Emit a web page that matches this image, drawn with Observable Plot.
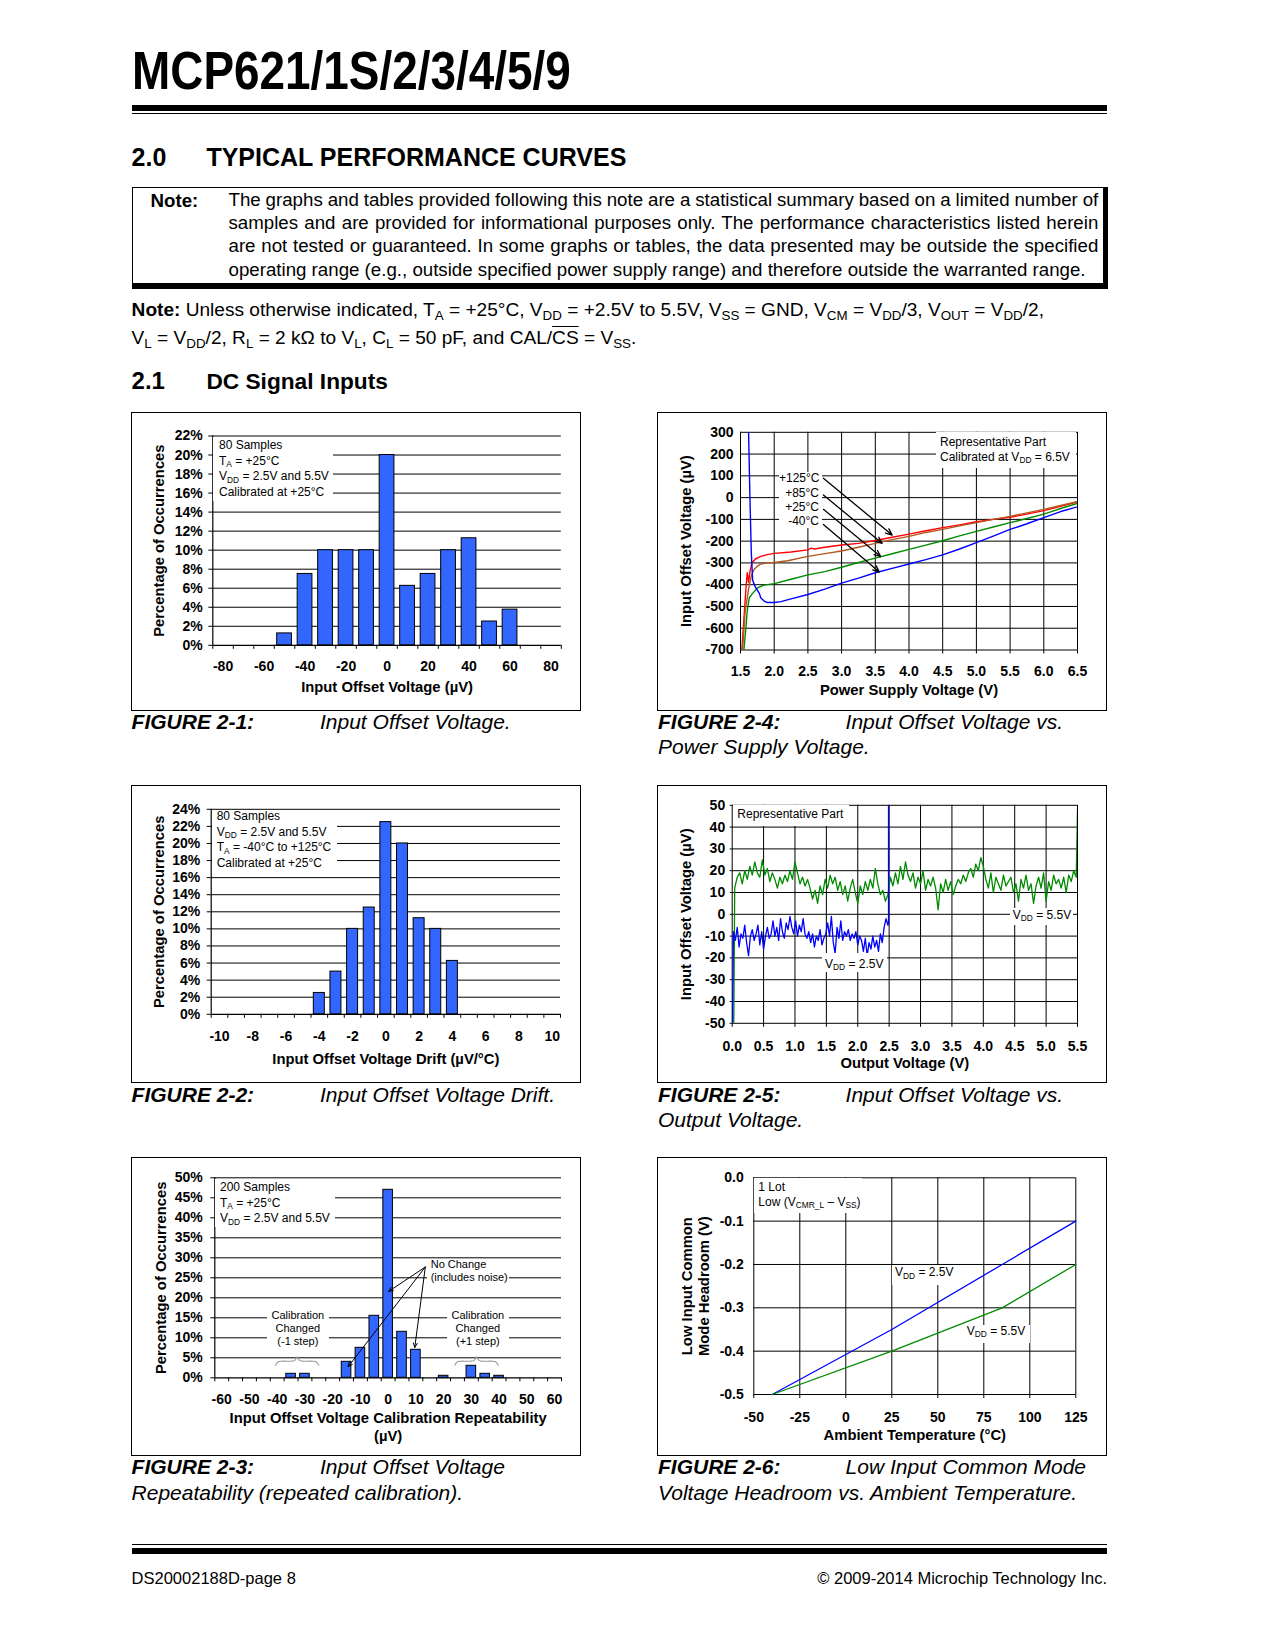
<!DOCTYPE html>
<html><head><meta charset="utf-8">
<script src="https://cdn.jsdelivr.net/npm/d3@7"></script>
<script src="https://cdn.jsdelivr.net/npm/@observablehq/plot@0.6"></script>
<style>
html,body{margin:0;padding:0;background:#fff;}
#page{position:relative;width:1275px;height:1650px;background:#fff;font-family:"Liberation Sans",Arial,Helvetica,sans-serif;color:#000;overflow:hidden}
.abs{position:absolute;white-space:nowrap}
sub{font-size:70%;vertical-align:baseline;position:relative;top:0.3em;line-height:0}
.box{position:absolute;background:#fff;box-shadow:inset 0 0 0 1px #000}
.box svg{position:absolute;left:0;top:0;max-width:none}
.ann{position:absolute;background:#fff;font-weight:normal}
.rule{position:absolute;background:#000}
.ol{text-decoration:overline}
</style>
</head><body><div id="page"></div>
<script>
// ---------- DATA ----------
// Figure 2-1: Input Offset Voltage histogram
const f1Bins = [-50,-40,-30,-20,-10,0,10,20,30,40,50,60];
const f1Pct  = [1.25,7.5,10,10,10,20,6.25,7.5,10,11.25,2.5,3.75];
const f1XLabels = [-80,-60,-40,-20,0,20,40,60,80];
const f1XEdges = [-85,-75,-65,-55,-45,-35,-25,-15,-5,5,15,25,35,45,55,65,75,85];
const f1YTicks = [0,2,4,6,8,10,12,14,16,18,20,22];

// Figure 2-2: Input Offset Voltage Drift histogram
const f2Bins = [-4,-3,-2,-1,0,1,2,3,4];
const f2Pct  = [2.5,5,10,12.5,22.5,20,11.25,10,6.25];
const f2XLabels = [-10,-8,-6,-4,-2,0,2,4,6,8,10];
const f2XEdges = [-10.5,-9.5,-8.5,-7.5,-6.5,-5.5,-4.5,-3.5,-2.5,-1.5,-0.5,0.5,1.5,2.5,3.5,4.5,5.5,6.5,7.5,8.5,9.5,10.5];
const f2YTicks = [0,2,4,6,8,10,12,14,16,18,20,22,24];

// Figure 2-3: Calibration repeatability histogram
const f3Bins = [-35,-30,-15,-10,-5,0,5,10,20,30,35,40];
const f3Pct  = [1,1,4,7.5,15.5,47,11.5,7,0.5,3,1,0.5];
const f3XLabels = [-60,-50,-40,-30,-20,-10,0,10,20,30,40,50,60];
const f3XEdges = [-62.5,-57.5,-52.5,-47.5,-42.5,-37.5,-32.5,-27.5,-22.5,-17.5,-12.5,-7.5,-2.5,2.5,7.5,12.5,17.5,22.5,27.5,32.5,37.5,42.5,47.5,52.5,57.5,62.5];
const f3YTicks = [0,5,10,15,20,25,30,35,40,45,50];
const f3Arrows = [
  {x1:13.4,y1:27.7,x2:0.2,y2:21.6},
  {x1:13.4,y1:27.7,x2:-14.4,y2:2.8},
  {x1:13.4,y1:27.7,x2:9.6,y2:7.6}
];
const f3Braces = [{x1:-40.6,x2:-25,y:4.15},{x1:24,x2:39.7,y:4.15}];

// Figure 2-4: VOS vs power supply voltage (V, µV)
const f4XTicks = [1.5,2.0,2.5,3.0,3.5,4.0,4.5,5.0,5.5,6.0,6.5];
const f4YTicks = [-700,-600,-500,-400,-300,-200,-100,0,100,200,300];
const f4T125 = [[1.52,-700],[1.55,-560],[1.58,-420],[1.6,-345],[1.62,-390],[1.64,-340],[1.67,-300],[1.72,-282],[1.8,-270],[1.9,-262],[2.0,-256],[2.25,-250],[2.5,-240],[2.55,-232],[2.6,-236],[2.75,-228],[3.0,-218],[3.25,-210],[3.5,-197],[3.75,-182],[4.0,-168],[4.25,-152],[4.5,-138],[4.75,-125],[5.0,-111],[5.25,-100],[5.5,-90],[5.75,-76],[6.0,-60],[6.25,-40],[6.5,-20]];
const f4T85 = [[1.53,-700],[1.57,-520],[1.62,-420],[1.66,-360],[1.7,-330],[1.75,-315],[1.8,-305],[1.9,-300],[2.0,-298],[2.2,-290],[2.5,-270],[2.8,-255],[3.0,-245],[3.25,-228],[3.5,-210],[3.75,-193],[4.0,-178],[4.25,-160],[4.5,-146],[4.75,-130],[5.0,-115],[5.25,-100],[5.5,-86],[5.75,-70],[6.0,-54],[6.25,-36],[6.5,-18]];
const f4T25 = [[1.55,-700],[1.58,-600],[1.6,-520],[1.63,-460],[1.68,-440],[1.75,-415],[1.85,-402],[2.0,-395],[2.25,-375],[2.5,-355],[2.75,-340],[3.0,-320],[3.25,-298],[3.5,-278],[3.75,-258],[4.0,-238],[4.25,-218],[4.5,-198],[4.75,-176],[5.0,-155],[5.25,-135],[5.5,-115],[5.75,-96],[6.0,-76],[6.25,-50],[6.5,-26]];
const f4Tm40 = [[1.62,300],[1.64,0],[1.66,-250],[1.68,-380],[1.72,-410],[1.78,-440],[1.8,-460],[1.85,-475],[1.9,-482],[2.0,-482],[2.1,-478],[2.25,-465],[2.5,-445],[2.75,-420],[3.0,-393],[3.25,-370],[3.5,-345],[3.75,-325],[4.0,-305],[4.25,-285],[4.5,-263],[4.75,-236],[5.0,-207],[5.25,-177],[5.5,-146],[5.75,-120],[6.0,-92],[6.25,-64],[6.5,-42]];
const f4Series = [
  {name:"+125°C", pts:f4T125, color:"#ff0000"},
  {name:"+85°C", pts:f4T85, color:"#b4561e"},
  {name:"+25°C", pts:f4T25, color:"#008a00"},
  {name:"-40°C", pts:f4Tm40, color:"#0000ff"}
];
const f4Arrows = [
  {x1:2.73,y1:89,x2:3.75,y2:-172},
  {x1:2.73,y1:12,x2:3.60,y2:-210},
  {x1:2.73,y1:-54,x2:3.58,y2:-271},
  {x1:2.73,y1:-123,x2:3.56,y2:-342}
];

// Figure 2-5: VOS vs output voltage (V, µV)
const f5XTicks = [0,0.5,1.0,1.5,2.0,2.5,3.0,3.5,4.0,4.5,5.0,5.5];
const f5YTicks = [-50,-40,-30,-20,-10,0,10,20,30,40,50];
const f5Vdd55Start = 0.04, f5Vdd55Step = 0.04;
const f5Vdd55 = [12,17,19,14,20,16,22,18,24,19, 17,25,18,21,15,19,16,12,17,14, 18,15,20,16,24,19,14,17,13,16,
  12,7,11,5,13,9,16,12,18,14, 17,11,15,9,13,6,12,16,10,5, 13,9,15,11,16,12,21,14,9,11,
  6,9,17,13,19,14,22,16,24,18, 15,19,12,17,14,20,11,16,13,17, 12,2,14,10,16,11,15,9,13,16,
  14,18,15,19,21,17,23,20,26,22, 16,12,19,10,17,14,11,18,13,15, 17,10,14,6,16,12,18,11,14,5,
  13,17,12,19,6,15,11,18,14,16, 12,17,10,18,15,20,17];
const f5Vdd55Ends = {first:[0.025,-50], last:[5.5,48]};
const f5Vdd25Start = 0.02, f5Vdd25Step = 0.03;
const f5Vdd25 = [-8,-12,-6,-15,-9,-11,-5,-13,-19,-10, -7,-12,-9,-5,-14,-8,-16,-10,-6,-11,
  -9,-3,-10,-6,-12,-2,-8,-11,-4,-7, -1,-6,-9,-3,-10,-5,-8,-2,-9,-11, -8,-13,-9,-15,-10,-12,-7,-14,-11,-9,
  -4,-10,-1,-13,-18,-6,-11,-3,-12,-8, -10,-7,-12,-9,-11,-8,-14,-10,-12,-17, -11,-19,-13,-16,-10,-15,-12,-17,-9,-13,
  -6,-2,-5];
const f5Vdd25Ends = {first:[0.005,-50], last:[[2.49,-4],[2.49,50]]};

// Figure 2-6: Low input common-mode headroom vs temperature
const f6XTicks = [-50,-25,0,25,50,75,100,125];
const f6YTicks = [-0.5,-0.4,-0.3,-0.2,-0.1,0];
const f6Temp = [-40,25,85,125];
const f6Vdd25 = [-0.5,-0.35,-0.2,-0.1];
const f6Vdd55 = [-0.5,-0.40,-0.30,-0.2];

// ---------- HELPERS ----------
const page = document.getElementById("page");
const FONT = "'Liberation Sans', Arial, Helvetica, sans-serif";
const STYLE = {fontFamily: FONT, fontSize: "14px", fontWeight: "bold", color: "#000", background: "transparent", overflow: "visible"};
const GRID = {stroke: "#000", strokeOpacity: 1, strokeWidth: 1};
const BAR = "#3366ff";
const TITLE_FS = 14.8;

function txt(html, x, base, fs, extra) {
  const d = document.createElement("div");
  d.className = "abs";
  d.style.left = x + "px";
  d.style.top = (base - 0.8465 * fs) + "px";
  d.style.fontSize = fs + "px";
  d.style.lineHeight = fs + "px";
  d.innerHTML = html;
  Object.assign(d.style, extra || {});
  page.appendChild(d);
  return d;
}
function justifyTo(d, width) {
  const spaces = (d.textContent.match(/ /g) || []).length;
  const natural = d.getBoundingClientRect().width;
  if (spaces > 0) d.style.wordSpacing = ((width - natural) / spaces) + "px";
}
function rule(x, y, w, h) {
  const d = document.createElement("div");
  d.className = "rule";
  Object.assign(d.style, {left: x + "px", top: y + "px", width: w + "px", height: h + "px"});
  page.appendChild(d);
}
function box(x, y, w, h) {
  const d = document.createElement("div");
  d.className = "box";
  Object.assign(d.style, {left: x + "px", top: y + "px", width: w + "px", height: h + "px"});
  page.appendChild(d);
  return d;
}
function ann(b, o) {
  const fs = o.fs || 12, lh = o.lh || 15;
  const outer = document.createElement("div");
  outer.className = "ann";
  Object.assign(outer.style, {left: o.l + "px", top: o.t + "px", width: o.w + "px", height: o.h + "px", fontFamily: FONT});
  const inner = document.createElement("div");
  const off = (lh - 1.117 * fs) / 2 + 0.905 * fs;
  Object.assign(inner.style, {position: "absolute", fontSize: fs + "px", lineHeight: lh + "px", top: (o.b - o.t - off) + "px", whiteSpace: "nowrap"});
  if (o.align === "center") { inner.style.left = "0px"; inner.style.width = o.w + "px"; inner.style.textAlign = "center"; }
  else if (o.align === "right") { inner.style.left = "0px"; inner.style.width = (o.tx - o.l) + "px"; inner.style.textAlign = "right"; }
  else inner.style.left = (o.tx - o.l) + "px";
  inner.innerHTML = o.lines.join("<br>");
  outer.appendChild(inner);
  b.appendChild(outer);
}
function titles(xTitle, xDy, yTitle, yDx, xLH, yLH) {
  return [
    Plot.text([xTitle], {text: d => d, frameAnchor: "bottom", dy: xDy, lineAnchor: "middle", textAnchor: "middle", fontSize: TITLE_FS, fontWeight: "bold", lineHeight: xLH || 1}),
    Plot.text([yTitle], {text: d => d, frameAnchor: "left", dx: -yDx, rotate: -90, lineAnchor: "middle", textAnchor: "middle", fontSize: TITLE_FS, fontWeight: "bold", lineHeight: yLH || 1})
  ];
}
function histogram(o) {
  const data = o.bins.map((b, i) => ({b, p: o.pct[i]}));
  return Plot.plot({
    width: o.w, height: o.h,
    marginTop: o.m[0], marginRight: o.m[1], marginBottom: o.m[2], marginLeft: o.m[3],
    style: STYLE,
    x: {type: "linear", domain: [o.xEdges[0], o.xEdges[o.xEdges.length - 1]]},
    y: {type: "linear", domain: [0, o.yTicks[o.yTicks.length - 1]]},
    marks: [
      Plot.gridY(o.yTicks.slice(1), GRID),
      Plot.rect(data, {x1: d => d.b - o.half, x2: d => d.b + o.half, y1: 0, y2: "p", fill: BAR, stroke: "#000", strokeWidth: 1}),
      Plot.ruleY([0], {stroke: "#000", strokeWidth: 1.2}),
      Plot.ruleX([o.xEdges[0]], {stroke: "#000", strokeWidth: 1.2}),
      Plot.axisX(o.xEdges, {tickSize: 4, tickFormat: () => "", label: null}),
      Plot.axisX(o.xLabels, {tickSize: 0, tickPadding: o.xPad, tickFormat: d => String(d), label: null, fontSize: 14, fontWeight: "bold"}),
      Plot.axisY(o.yTicks, {tickSize: 4, tickPadding: o.yPad, tickFormat: d => d + "%", label: null, fontSize: 14, fontWeight: "bold"}),
      ...titles(o.xTitle, o.xDy, o.yTitle, o.yDx, o.xLH),
      ...(o.extra || [])
    ]
  });
}
function caption(x, base, fig, text, x2, line2) {
  txt(fig, x, base, 21, {fontWeight: "bold", fontStyle: "italic"});
  txt(text, x2, base, 21, {fontStyle: "italic"});
  if (line2) txt(line2, x, base + 25.3, 21, {fontStyle: "italic"});
}

// ---------- PAGE HEADER ----------
txt("MCP621/1S/2/3/4/5/9", 131.6, 88.5, 54, {fontWeight: "bold", transform: "scaleX(0.85)", transformOrigin: "0 0"});
rule(131.6, 105.3, 975.4, 5.3);
rule(131.6, 112.6, 975.4, 1.6);
txt("2.0", 131.6, 166.4, 25, {fontWeight: "bold"});
txt("TYPICAL PERFORMANCE CURVES", 206.4, 166.4, 25, {fontWeight: "bold"});

const nb = document.createElement("div");
Object.assign(nb.style, {position: "absolute", left: "131.6px", top: "187.4px", width: "976px", height: "102px", boxSizing: "border-box", borderLeft: "1.3px solid #000", borderTop: "1.3px solid #000", borderRight: "5px solid #000", borderBottom: "6px solid #000"});
page.appendChild(nb);
txt("Note:", 150.6, 207.4, 18.7, {fontWeight: "bold"});
const noteLines = [
  "The graphs and tables provided following this note are a statistical summary based on a limited number of",
  "samples and are provided for informational purposes only. The performance characteristics listed herein",
  "are not tested or guaranteed. In some graphs or tables, the data presented may be outside the specified",
  "operating range (e.g., outside specified power supply range) and therefore outside the warranted range."
];
noteLines.forEach((l, i) => {
  const d = txt(l, 228.5, 206.8 + i * 23.2, 18.7);
  if (i < 3) justifyTo(d, 869.8);
});
txt("<b>Note:</b> Unless otherwise indicated, T<sub>A</sub> = +25°C, V<sub>DD</sub> = +2.5V to 5.5V, V<sub>SS</sub> = GND, V<sub>CM</sub> = V<sub>DD</sub>/3, V<sub>OUT</sub> = V<sub>DD</sub>/2,", 131.6, 316, 19.1);
txt("V<sub>L</sub> = V<sub>DD</sub>/2, R<sub>L</sub> = 2 kΩ to V<sub>L</sub>, C<sub>L</sub> = 50 pF, and CAL/<span class='ol'>CS</span> = V<sub>SS</sub>.", 131.6, 344.3, 19.1);
txt("2.1", 131.6, 389.6, 24, {fontWeight: "bold"});
txt("DC Signal Inputs", 206.4, 389.6, 22.7, {fontWeight: "bold"});

// ---------- FIGURE 2-1 ----------
const b1 = box(131, 411.5, 450, 299);
b1.appendChild(histogram({
  w: 450, h: 299, m: [23.5, 20.2, 66.2, 81.3],
  bins: f1Bins, pct: f1Pct, half: 3.6, xEdges: f1XEdges, xLabels: f1XLabels, yTicks: f1YTicks,
  xPad: 16, yPad: 6,
  xTitle: "Input Offset Voltage (µV)", xDy: 42, yTitle: "Percentage of Occurrences", yDx: 53.3
}));
ann(b1, {l: 82, t: 25, w: 120, h: 64, tx: 88, b: 38.8, lh: 15.4, lines: ["80 Samples", "T<sub>A</sub> = +25°C", "V<sub>DD</sub> = 2.5V and 5.5V", "Calibrated at +25°C"]});

// ---------- FIGURE 2-2 ----------
const b2 = box(131, 784.5, 450, 298);
b2.appendChild(histogram({
  w: 450, h: 298, m: [23.8, 21, 69.2, 79.7],
  bins: f2Bins, pct: f2Pct, half: 0.33, xEdges: f2XEdges, xLabels: f2XLabels, yTicks: f2YTicks,
  xPad: 16.4, yPad: 7,
  xTitle: "Input Offset Voltage Drift (µV/°C)", xDy: 44.5, yTitle: "Percentage of Occurrences", yDx: 51.7
}));
ann(b2, {l: 80.5, t: 25.5, w: 125.5, h: 63.5, tx: 85.7, b: 36.5, lh: 15.7, lines: ["80 Samples", "V<sub>DD</sub> = 2.5V and 5.5V", "T<sub>A</sub> = -40°C to +125°C", "Calibrated at +25°C"]});

// ---------- FIGURE 2-3 ----------
function bracePts(br) {
  const m = (br.x1 + br.x2) / 2, y = br.y;
  return [[br.x1, y - 1], [br.x1 + 1, y - 0.15], [br.x1 + 2.2, y], [m - 2.2, y], [m - 0.8, y + 0.2], [m, y + 1.1], [m + 0.8, y + 0.2], [m + 2.2, y], [br.x2 - 2.2, y], [br.x2 - 1, y - 0.15], [br.x2, y - 1]];
}
const b3 = box(131, 1157, 450, 299);
b3.appendChild(histogram({
  w: 450, h: 299, m: [20.3, 20, 78.7, 83.3],
  bins: f3Bins, pct: f3Pct, half: 1.73, xEdges: f3XEdges, xLabels: f3XLabels, yTicks: f3YTicks,
  xPad: 16.3, yPad: 8,
  xTitle: "Input Offset Voltage Calibration Repeatability\n(µV)", xDy: 48, xLH: 1.22, yTitle: "Percentage of Occurrences", yDx: 53.3,
  extra: [
    ...f3Braces.map(br => Plot.line(bracePts(br), {curve: "catmull-rom", stroke: "#999", strokeWidth: 1.1})),
    Plot.arrow(f3Arrows, {x1: "x1", y1: "y1", x2: "x2", y2: "y2", stroke: "#000", strokeWidth: 1, headLength: 7, headAngle: 50})
  ]
}));
ann(b3, {l: 84, t: 21.5, w: 119.5, h: 48, tx: 89, b: 35, lh: 15.5, lines: ["200 Samples", "T<sub>A</sub> = +25°C", "V<sub>DD</sub> = 2.5V and 5.5V"]});
ann(b3, {l: 295.7, t: 102.7, w: 82, h: 23.3, tx: 299.7, b: 111, fs: 11, lh: 12.7, lines: ["No Change", "(includes noise)"]});
ann(b3, {l: 135.7, t: 151, w: 62.3, h: 41, b: 162.7, fs: 11, lh: 13, align: "center", lines: ["Calibration", "Changed", "(-1 step)"]});
ann(b3, {l: 315.7, t: 151, w: 62.3, h: 41, b: 162.7, fs: 11, lh: 13, align: "center", lines: ["Calibration", "Changed", "(+1 step)"]});

// ---------- FIGURE 2-4 ----------
const b4 = box(657, 411.5, 450, 299);
b4.appendChild(Plot.plot({
  width: 450, height: 299, marginTop: 19.8, marginRight: 30, marginBottom: 61.5, marginLeft: 83,
  style: STYLE,
  x: {type: "linear", domain: [1.5, 6.5]},
  y: {type: "linear", domain: [-700, 300]},
  marks: [
    Plot.gridX(f4XTicks, GRID),
    Plot.gridY(f4YTicks, GRID),
    ...f4Series.map(s => Plot.line(s.pts, {x: d => d[0], y: d => d[1], stroke: s.color, strokeWidth: 1.4, clip: true})),
    Plot.arrow(f4Arrows, {x1: "x1", y1: "y1", x2: "x2", y2: "y2", stroke: "#000", strokeWidth: 1.3, headLength: 8, headAngle: 45}),
    Plot.axisX(f4XTicks, {tickSize: 4, tickPadding: 11.8, tickFormat: d => d.toFixed(1), label: null, fontSize: 14, fontWeight: "bold"}),
    Plot.axisY(f4YTicks, {tickSize: 0, tickPadding: 7, tickFormat: d => String(d), label: null, fontSize: 14, fontWeight: "bold"}),
    ...titles("Power Supply Voltage (V)", 40.7, "Input Offset Voltage (µV)", 54.5)
  ]
}));
ann(b4, {l: 279, t: 20.6, w: 140, h: 35.7, tx: 283, b: 35, lh: 15, lines: ["Representative Part", "Calibrated at V<sub>DD</sub> = 6.5V"]});
ann(b4, {l: 122, t: 60.5, w: 43, h: 56, tx: 162, b: 71, lh: 14.3, align: "right", lines: f4Series.map(s => s.name)});

// ---------- FIGURE 2-5 ----------
const f5g = [f5Vdd55Ends.first, ...f5Vdd55.map((v, i) => [f5Vdd55Start + i * f5Vdd55Step, v]), f5Vdd55Ends.last];
const f5b = [f5Vdd25Ends.first, ...f5Vdd25.map((v, i) => [f5Vdd25Start + i * f5Vdd25Step, v]), ...f5Vdd25Ends.last];
const b5 = box(657, 784.5, 450, 298);
b5.appendChild(Plot.plot({
  width: 450, height: 298, marginTop: 19.8, marginRight: 30, marginBottom: 60.2, marginLeft: 74.7,
  style: STYLE,
  x: {type: "linear", domain: [0, 5.5]},
  y: {type: "linear", domain: [-50, 50]},
  marks: [
    Plot.gridX(f5XTicks, GRID),
    Plot.gridY(f5YTicks, GRID),
    Plot.line(f5g, {x: d => d[0], y: d => d[1], stroke: "#008a00", strokeWidth: 1.3, clip: true}),
    Plot.line(f5b, {x: d => d[0], y: d => d[1], stroke: "#0000ff", strokeWidth: 1.3, clip: true}),
    Plot.axisX(f5XTicks, {tickSize: 4, tickPadding: 13.4, tickFormat: d => d.toFixed(1), label: null, fontSize: 14, fontWeight: "bold"}),
    Plot.axisY(f5YTicks, {tickSize: 2, tickPadding: 5, tickFormat: d => String(d), label: null, fontSize: 14, fontWeight: "bold"}),
    ...titles("Output Voltage (V)", 40.2, "Input Offset Voltage (µV)", 46.2)
  ]
}));
ann(b5, {l: 75.5, t: 20.5, w: 116, h: 20.5, tx: 80.3, b: 34.5, lines: ["Representative Part"]});
ann(b5, {l: 164.7, t: 168.5, w: 65, h: 18.7, tx: 168, b: 183.8, lines: ["V<sub>DD</sub> = 2.5V"]});
ann(b5, {l: 353, t: 123.5, w: 63, h: 17, tx: 355.7, b: 134.8, lines: ["V<sub>DD</sub> = 5.5V"]});

// ---------- FIGURE 2-6 ----------
const b6 = box(657, 1157, 450, 299);
b6.appendChild(Plot.plot({
  width: 450, height: 299, marginTop: 20.3, marginRight: 31.7, marginBottom: 62, marginLeft: 96.3,
  style: STYLE,
  x: {type: "linear", domain: [-50, 125]},
  y: {type: "linear", domain: [-0.5, 0]},
  marks: [
    Plot.gridX(f6XTicks, GRID),
    Plot.gridY(f6YTicks, GRID),
    Plot.line(f6Temp.map((t, i) => [t, f6Vdd25[i]]), {x: d => d[0], y: d => d[1], stroke: "#0000ff", strokeWidth: 1.3}),
    Plot.line(f6Temp.map((t, i) => [t, f6Vdd55[i]]), {x: d => d[0], y: d => d[1], stroke: "#008a00", strokeWidth: 1.3}),
    Plot.axisX(f6XTicks, {tickSize: 4, tickPadding: 13.4, tickFormat: d => String(d), label: null, fontSize: 14, fontWeight: "bold"}),
    Plot.axisY(f6YTicks, {tickSize: 0, tickPadding: 10, tickFormat: d => d.toFixed(1), label: null, fontSize: 14, fontWeight: "bold"}),
    ...titles("Ambient Temperature (°C)", 41.2, "Low Input Common\nMode Headroom (V)", 58.3, 1, 1.15)
  ]
}));
ann(b6, {l: 97, t: 21, w: 107.7, h: 35, tx: 101.3, b: 34.3, lh: 15, lines: ["1 Lot", "Low (V<sub>CMR_L</sub> – V<sub>SS</sub>)"]});
ann(b6, {l: 234.7, t: 108, w: 63.3, h: 19.7, tx: 238, b: 120, lines: ["V<sub>DD</sub> = 2.5V"]});
ann(b6, {l: 308, t: 167.7, w: 65, h: 18.3, tx: 309.7, b: 178.3, lines: ["V<sub>DD</sub> = 5.5V"]});

// ---------- CAPTIONS ----------
caption(131.6, 728.7, "FIGURE 2-1:", "Input Offset Voltage.", 320);
caption(658, 728.7, "FIGURE 2-4:", "Input Offset Voltage vs.", 845.6, "Power Supply Voltage.");
caption(131.6, 1101.4, "FIGURE 2-2:", "Input Offset Voltage Drift.", 320);
caption(658, 1101.4, "FIGURE 2-5:", "Input Offset Voltage vs.", 845.6, "Output Voltage.");
caption(131.6, 1474.2, "FIGURE 2-3:", "Input Offset Voltage", 320, "Repeatability (repeated calibration).");
caption(658, 1474.2, "FIGURE 2-6:", "Low Input Common Mode", 845.6, "Voltage Headroom vs. Ambient Temperature.");

// ---------- FOOTER ----------
rule(131.6, 1543.5, 975.4, 1.6);
rule(131.6, 1548.3, 975.4, 5.6);
txt("DS20002188D-page 8", 131.6, 1583.7, 16.5);
const fr = txt("© 2009-2014 Microchip Technology Inc.", 0, 1583.7, 16.5);
fr.style.left = "auto"; fr.style.right = (1275 - 1107) + "px";
</script>
</body></html>
